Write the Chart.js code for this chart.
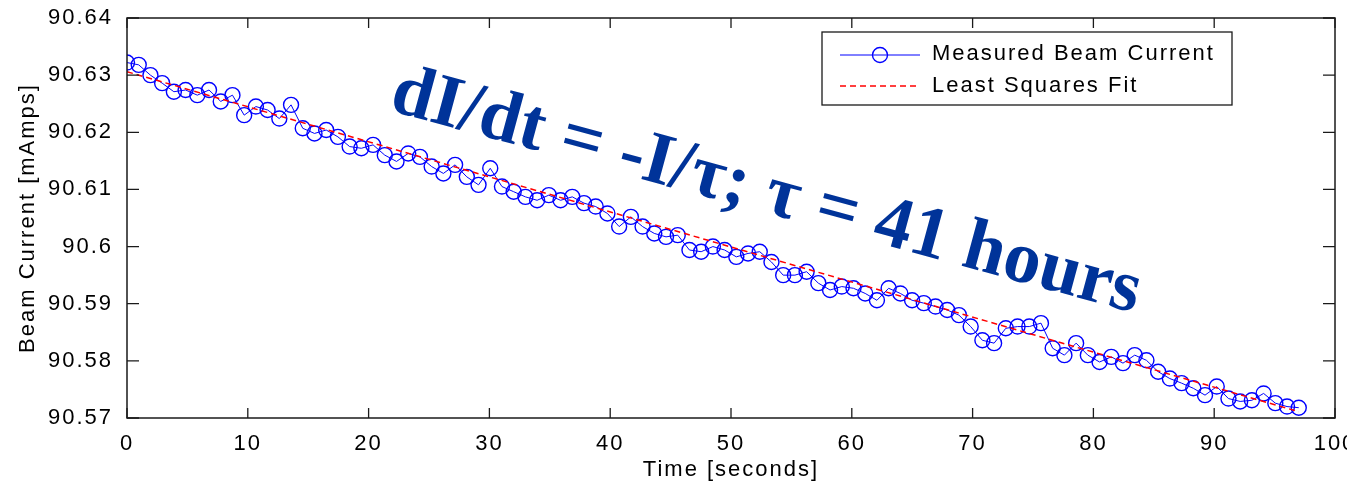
<!DOCTYPE html>
<html>
<head>
<meta charset="utf-8">
<script src="https://cdn.jsdelivr.net/npm/chart.js@4.4.1/dist/chart.umd.min.js"></script>
<style>
  html, body { margin: 0; padding: 0; background: #fff; }
  #wrap { width: 1347px; height: 491px; }
</style>
</head>
<body>
<div id="wrap"><canvas id="beam"></canvas></div>
<script>
// measured beam current, one sample every ~0.97 s
const times = [0, 0.97, 1.94, 2.91, 3.88, 4.85, 5.82, 6.79, 7.76, 8.73,
  9.7, 10.67, 11.64, 12.61, 13.58, 14.55, 15.52, 16.49, 17.46, 18.43,
  19.4, 20.37, 21.34, 22.31, 23.28, 24.25, 25.22, 26.19, 27.16, 28.13,
  29.1, 30.07, 31.04, 32.01, 32.98, 33.95, 34.92, 35.89, 36.86, 37.83,
  38.8, 39.77, 40.74, 41.71, 42.68, 43.65, 44.62, 45.59, 46.56, 47.53,
  48.5, 49.47, 50.44, 51.41, 52.38, 53.35, 54.32, 55.29, 56.26, 57.23,
  58.2, 59.17, 60.14, 61.11, 62.08, 63.05, 64.02, 64.99, 65.96, 66.93,
  67.9, 68.87, 69.84, 70.81, 71.78, 72.75, 73.72, 74.69, 75.66, 76.63,
  77.6, 78.57, 79.54, 80.51, 81.48, 82.45, 83.42, 84.39, 85.36, 86.33,
  87.3, 88.27, 89.24, 90.21, 91.18, 92.15, 93.12, 94.09, 95.06, 96.03, 97.0];

const current = [90.6322, 90.6318, 90.6300, 90.6286, 90.6271, 90.6274, 90.6265, 90.6274, 90.6254, 90.6265,
  90.6230, 90.6245, 90.6239, 90.6224, 90.6248, 90.6207, 90.6198, 90.6204, 90.6192, 90.6175,
  90.6172, 90.6178, 90.6160, 90.6149, 90.6163, 90.6157, 90.6140, 90.6128, 90.6143, 90.6122,
  90.6108, 90.6137, 90.6105, 90.6096, 90.6087, 90.6081, 90.6090, 90.6081, 90.6087, 90.6076,
  90.6070, 90.6058, 90.6035, 90.6052, 90.6035, 90.6023, 90.6017, 90.6020, 90.5994, 90.5991,
  90.6000, 90.5994, 90.5982, 90.5988, 90.5991, 90.5973, 90.5950, 90.5950, 90.5956, 90.5936,
  90.5924, 90.5930, 90.5927, 90.5918, 90.5906, 90.5927, 90.5918, 90.5906, 90.5901, 90.5895,
  90.5889, 90.5880, 90.5860, 90.5836, 90.5831, 90.5857, 90.5860, 90.5860, 90.5866, 90.5822,
  90.5810, 90.5831, 90.5810, 90.5798, 90.5807, 90.5796, 90.5810, 90.5801, 90.5781, 90.5769,
  90.5761, 90.5752, 90.5740, 90.5755, 90.5734, 90.5729, 90.5731, 90.5743, 90.5726, 90.5720, 90.5718];

// least squares fit end points
const fitTimes = [0, 97];
const fitCurrent = [90.6306, 90.5711];

const xTicks = [0, 10, 20, 30, 40, 50, 60, 70, 80, 90, 100];
const yTicks = [90.57, 90.58, 90.59, 90.6, 90.61, 90.62, 90.63, 90.64];

const legendLabels = ['Measured Beam Current', 'Least Squares Fit'];
const note = 'dI/dt = -I/\u03c4; \u03c4 = 41 hours';

const axisFont = { family: 'Liberation Sans, Arial, sans-serif', size: 22 };

let chart_beam = null;

// matlab style box, ticks pointing inwards, plus legend and note
const boxPlugin = {
  id: 'box',
  beforeDraw(chart) {
    chart.ctx.letterSpacing = '2px';
  },
  afterDraw(chart) {
    const ctx = chart.ctx;
    const a = chart.chartArea;
    const xs = chart.scales.x, ys = chart.scales.y;
    ctx.save();
    ctx.strokeStyle = '#1a1a1a';
    ctx.lineWidth = 1.5;
    ctx.strokeRect(a.left, a.top, a.right - a.left, a.bottom - a.top);
    ctx.lineWidth = 1.3;
    ctx.beginPath();
    xTicks.forEach(v => {
      let px = xs.getPixelForValue(v);
      ctx.moveTo(px, a.bottom); ctx.lineTo(px, a.bottom - 10);
      ctx.moveTo(px, a.top); ctx.lineTo(px, a.top + 10);
    });
    yTicks.forEach(v => {
      let py = ys.getPixelForValue(v);
      ctx.moveTo(a.left, py); ctx.lineTo(a.left + 12, py);
      ctx.moveTo(a.right, py); ctx.lineTo(a.right - 12, py);
    });
    ctx.stroke();

    // legend
    let lx = a.right - 513, ly = a.top + 14;
    ctx.fillStyle = '#fff';
    ctx.fillRect(lx, ly, 410, 73);
    ctx.strokeStyle = '#1a1a1a';
    ctx.lineWidth = 1.3;
    ctx.strokeRect(lx, ly, 410, 73);

    ctx.strokeStyle = '#0000ff';
    ctx.lineWidth = 1;
    ctx.beginPath();
    ctx.moveTo(lx + 18, ly + 23); ctx.lineTo(lx + 98, ly + 23);
    ctx.stroke();
    ctx.lineWidth = 1.4;
    ctx.beginPath();
    ctx.arc(lx + 58, ly + 23, 7.5, 0, Math.PI * 2);
    ctx.stroke();

    ctx.strokeStyle = '#ff0000';
    ctx.lineWidth = 1.5;
    ctx.setLineDash([6, 4]);
    ctx.beginPath();
    ctx.moveTo(lx + 18, ly + 54); ctx.lineTo(lx + 98, ly + 54);
    ctx.stroke();
    ctx.setLineDash([]);

    ctx.fillStyle = '#000';
    ctx.font = '22px "Liberation Sans", Arial, sans-serif';
    ctx.textBaseline = 'alphabetic';
    ctx.textAlign = 'left';
    ctx.fillText(legendLabels[0], lx + 110, ly + 28);
    ctx.fillText(legendLabels[1], lx + 110, ly + 60);

    // rotated annotation
    ctx.letterSpacing = '0px';
    let tx = xs.getPixelForValue(21.6), ty = ys.getPixelForValue(90.6239);
    ctx.translate(tx, ty);
    ctx.rotate(15.2 * Math.PI / 180);
    ctx.fillStyle = '#003399';
    ctx.font = 'bold 74px "Liberation Serif", "Times New Roman", serif';
    ctx.fillText(note, 0, 0);
    ctx.restore();
  }
};

function createChartBeam() {
  if (chart_beam != null) {
    chart_beam.destroy();
  }
  let measured = times.map((t, i) => ({ x: t, y: current[i] }));
  let fit = fitTimes.map((t, i) => ({ x: t, y: fitCurrent[i] }));

  chart_beam = new Chart(document.getElementById('beam'), {
    type: 'line',
    data: {
      datasets: [
        {
          label: legendLabels[1],
          data: fit,
          borderColor: '#ff0000',
          borderWidth: 1.5,
          borderDash: [6, 4],
          pointRadius: 0,
          fill: false,
          order: 0
        },
        {
          label: legendLabels[0],
          data: measured,
          borderColor: '#0000ff',
          borderWidth: 1,
          pointRadius: 7.5,
          pointBorderWidth: 1.4,
          pointBorderColor: '#0000ff',
          pointBackgroundColor: 'rgba(0,0,0,0)',
          pointStyle: 'circle',
          fill: false,
          order: 1
        }
      ]
    },
    options: {
      responsive: true,
      maintainAspectRatio: false,
      animation: false,
      layout: { padding: { top: 18, right: 12, left: 0, bottom: 0 } },
      plugins: {
        legend: { display: false },
        tooltip: { enabled: false }
      },
      scales: {
        x: {
          type: 'linear',
          min: 0,
          max: 100,
          afterFit: s => { s.height = 73; s.paddingLeft = 0; s.paddingRight = 0; },
          afterBuildTicks: s => { s.ticks = xTicks.map(v => ({ value: v })); },
          grid: { display: false },
          border: { display: false },
          ticks: { font: axisFont, color: '#000', padding: 5, maxRotation: 0,
                   callback: v => String(v) },
          title: { display: true, text: 'Time [seconds]', font: axisFont, color: '#000',
                   padding: { top: 0, bottom: 8 } }
        },
        y: {
          type: 'linear',
          min: 90.57,
          max: 90.64,
          afterFit: s => { s.width = 127; s.paddingTop = 0; s.paddingBottom = 0; },
          afterBuildTicks: s => { s.ticks = yTicks.map(v => ({ value: v })); },
          grid: { display: false },
          border: { display: false },
          ticks: { font: axisFont, color: '#000', padding: 6,
                   callback: v => String(Number(v.toFixed(2))) },
          title: { display: true, text: 'Beam Current [mAmps]', font: axisFont, color: '#000',
                   padding: { top: 15, bottom: 0 } }
        }
      }
    },
    plugins: [boxPlugin]
  });
}

createChartBeam();
</script>
</body>
</html>
